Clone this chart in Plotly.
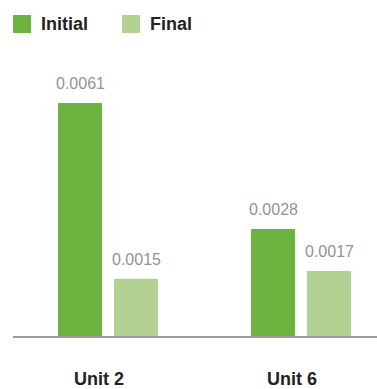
import plotly.graph_objects as go

categories = ["Unit 2", "Unit 6"]
series_names = ["Initial", "Final"]
initial_values = [0.0061, 0.0028]
final_values = [0.0015, 0.0017]
value_labels_initial = ["0.0061", "0.0028"]
value_labels_final = ["0.0015", "0.0017"]

colors = {"Initial": "#6db33f", "Final": "#b3d191"}
FONT = "Liberation Sans, Arial, sans-serif"

W, H = 377, 389
ML, MR, MT, MB = 13, 0, 60, 53
plot_w = W - ML - MR
plot_h = H - MT - MB
px_per_cat = 193.0
x0 = -(108 - ML) / px_per_cat
x1 = x0 + plot_w / px_per_cat

bar_w = 44 / px_per_cat
offsets = {"Initial": -50 / px_per_cat, "Final": 6 / px_per_cat}
xpos = list(range(len(categories)))

fig = go.Figure()
annotations = []
for name, vals, labels in [("Initial", initial_values, value_labels_initial),
                           ("Final", final_values, value_labels_final)]:
    fig.add_trace(go.Bar(
        x=xpos, y=vals, name=name,
        marker=dict(color=colors[name], line=dict(width=0)),
        width=bar_w, offset=offsets[name],
        showlegend=False,
        hoverinfo="skip",
    ))
    for xi, v, lab in zip(xpos, vals, labels):
        annotations.append(dict(
            x=xi + offsets[name] + bar_w / 2, y=v, xref="x", yref="y",
            text=lab, showarrow=False, yanchor="bottom", yshift=9,
            font=dict(family=FONT, size=16, color="#939393"),
        ))

# legend drawn at the top
legend_items = [("Initial", 13), ("Final", 122)]
shapes = []
for name, lx in legend_items:
    shapes.append(dict(type="rect", xref="paper", yref="paper",
                       x0=(lx - ML) / plot_w, x1=(lx + 18 - ML) / plot_w,
                       y0=1 + (MT - 33) / plot_h, y1=1 + (MT - 15) / plot_h,
                       fillcolor=colors[name], line=dict(width=0)))
    annotations.append(dict(x=(lx + 26 - ML) / plot_w, y=1 + (MT - 24) / plot_h,
                            xref="paper", yref="paper", xanchor="left", yanchor="middle",
                            text="<b>%s</b>" % name, showarrow=False,
                            font=dict(family=FONT, size=18, color="#222222")))

ymax = plot_h / 38197.0
fig.update_layout(
    width=W, height=H,
    margin=dict(l=ML, r=MR, t=MT, b=MB, autoexpand=False),
    paper_bgcolor="white", plot_bgcolor="white",
    annotations=annotations, shapes=shapes,
    xaxis=dict(range=[x0, x1], tickvals=xpos,
               ticktext=["<b>%s</b>" % c for c in categories],
               showgrid=False, zeroline=False, showline=True,
               linecolor="#9a9a9a", linewidth=1.5, ticks="",
               automargin=False,
               ticklabelstandoff=26, ticklabelshift=-9,
               tickfont=dict(family=FONT, size=18, color="#222222"),
               fixedrange=True),
    yaxis=dict(range=[0, ymax], visible=False, fixedrange=True, automargin=False),
)

fig.write_html("out.html", config={"displayModeBar": False},
               post_script="document.body.style.margin='0';document.body.style.overflow='hidden';")
